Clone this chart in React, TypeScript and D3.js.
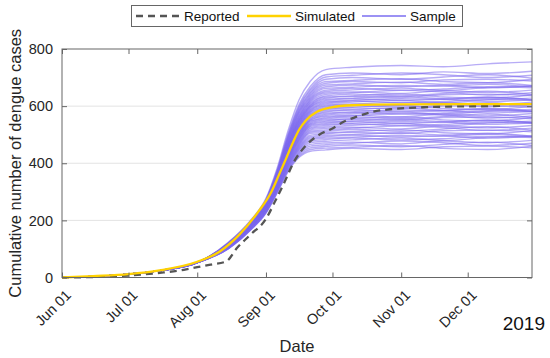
import { useEffect, useRef } from "react";
import * as d3 from "d3";

// Simulated (yellow) curve
const simDates = ["2019-06-01", "2019-06-15", "2019-07-01", "2019-07-15", "2019-08-01", "2019-08-11", "2019-08-20", "2019-08-29", "2019-09-03", "2019-09-07", "2019-09-10", "2019-09-13", "2019-09-16", "2019-09-19", "2019-09-24", "2019-09-30", "2019-10-10", "2019-10-31", "2019-12-30"];
const simValues = [0, 5, 12, 25, 55, 90, 150, 235, 293, 362, 415, 470, 518, 550, 580, 595, 603, 606, 607];

// Reported (dashed) curve
const repDates = ["2019-06-01", "2019-06-11", "2019-06-21", "2019-07-01", "2019-07-16", "2019-07-26", "2019-08-01", "2019-08-07", "2019-08-14", "2019-08-19", "2019-08-25", "2019-09-01", "2019-09-05", "2019-09-09", "2019-09-14", "2019-09-19", "2019-09-25", "2019-10-01", "2019-10-06", "2019-10-12", "2019-10-19", "2019-10-27", "2019-11-11", "2019-11-26", "2019-12-11", "2019-12-16"];
const repValues = [0, 1, 3, 7, 17, 27, 36, 45, 56, 104, 150, 205, 265, 328, 410, 462, 500, 522, 545, 563, 580, 589, 596, 599, 600, 601];

// Sample curves: common early part, then one row per sample
const sampleEarlyDates = ["2019-06-01", "2019-07-01", "2019-07-16", "2019-08-01"];
const sampleEarlyValues = [0, 12, 25, 52];
const sampleDates = ["2019-08-15", "2019-08-25", "2019-09-01", "2019-09-06", "2019-09-11", "2019-09-16", "2019-09-21", "2019-09-28", "2019-10-10", "2019-11-01", "2019-11-20", "2019-12-10", "2019-12-30"];
const samples = [
  [123, 200, 277, 382, 515, 623, 687, 728, 736, 742, 738, 748, 755],
  [121, 197, 273, 375, 504, 607, 669, 710, 716, 710, 720, 714, 722],
  [121, 196, 271, 372, 499, 600, 661, 702, 708, 716, 710, 700, 708],
  [120, 195, 270, 370, 495, 595, 655, 694, 700, 694, 702, 710, 698],
  [119, 194, 269, 368, 491, 589, 649, 686, 690, 696, 686, 682, 694],
  [119, 193, 267, 366, 488, 585, 644, 680, 686, 682, 692, 694, 688],
  [118, 193, 266, 364, 485, 581, 639, 674, 678, 684, 676, 682, 672],
  [118, 192, 265, 362, 482, 577, 634, 668, 674, 668, 672, 664, 670],
  [117, 191, 264, 360, 479, 573, 629, 662, 666, 672, 670, 676, 668],
  [117, 190, 263, 358, 476, 568, 625, 656, 662, 656, 660, 668, 664],
  [117, 190, 262, 357, 473, 565, 621, 651, 657, 663, 655, 665, 671],
  [116, 189, 261, 355, 471, 561, 617, 646, 650, 644, 654, 648, 656],
  [116, 189, 260, 354, 468, 558, 613, 641, 647, 655, 649, 639, 647],
  [115, 188, 260, 353, 466, 554, 609, 636, 642, 636, 644, 652, 640],
  [115, 188, 259, 351, 464, 552, 605, 632, 636, 642, 632, 628, 640],
  [115, 187, 258, 350, 462, 549, 602, 628, 634, 630, 640, 642, 636],
  [114, 187, 257, 349, 460, 546, 599, 624, 628, 634, 626, 632, 622],
  [114, 186, 257, 348, 458, 543, 596, 620, 626, 620, 624, 616, 622],
  [114, 186, 256, 347, 456, 540, 593, 616, 620, 626, 624, 630, 622],
  [113, 185, 255, 345, 454, 538, 589, 612, 618, 612, 616, 624, 620],
  [113, 185, 255, 344, 452, 535, 586, 608, 614, 620, 612, 622, 628],
  [113, 184, 254, 343, 450, 532, 583, 604, 608, 602, 612, 606, 614],
  [112, 184, 253, 342, 448, 529, 580, 600, 606, 614, 608, 598, 606],
  [112, 183, 252, 341, 446, 526, 577, 596, 602, 596, 604, 612, 600],
  [112, 183, 252, 339, 444, 524, 573, 592, 596, 602, 592, 588, 600],
  [112, 182, 251, 338, 442, 521, 570, 588, 594, 590, 600, 602, 596],
  [111, 182, 250, 337, 440, 518, 567, 584, 588, 594, 586, 592, 582],
  [111, 181, 249, 336, 438, 515, 564, 580, 586, 580, 584, 576, 582],
  [111, 181, 249, 335, 436, 512, 561, 576, 580, 586, 584, 590, 582],
  [110, 180, 248, 333, 434, 510, 557, 572, 578, 572, 576, 584, 580],
  [110, 180, 247, 332, 432, 507, 554, 568, 574, 580, 572, 582, 588],
  [110, 179, 247, 331, 430, 504, 551, 564, 568, 562, 572, 566, 574],
  [109, 179, 246, 330, 428, 501, 548, 560, 566, 574, 568, 558, 566],
  [109, 178, 245, 329, 426, 498, 545, 556, 562, 556, 564, 572, 560],
  [109, 178, 244, 327, 424, 496, 541, 552, 556, 562, 552, 548, 560],
  [108, 177, 244, 326, 422, 493, 538, 548, 554, 550, 560, 562, 556],
  [108, 177, 243, 325, 420, 490, 535, 544, 548, 554, 546, 552, 542],
  [108, 176, 242, 324, 418, 487, 532, 540, 546, 540, 544, 536, 542],
  [107, 176, 242, 323, 416, 484, 529, 536, 540, 546, 544, 550, 542],
  [107, 175, 241, 321, 414, 482, 525, 532, 538, 532, 536, 544, 540],
  [107, 175, 240, 320, 411, 478, 521, 527, 533, 539, 531, 541, 547],
  [106, 174, 239, 318, 409, 475, 517, 522, 526, 520, 530, 524, 532],
  [106, 174, 238, 317, 406, 471, 513, 517, 523, 531, 525, 515, 523],
  [105, 173, 237, 315, 404, 468, 509, 512, 518, 512, 520, 528, 516],
  [105, 173, 236, 314, 401, 464, 505, 507, 511, 517, 507, 503, 515],
  [105, 172, 235, 312, 399, 461, 498, 503, 508, 504, 514, 516, 510],
  [104, 171, 234, 311, 396, 457, 493, 498, 501, 507, 499, 505, 495],
  [104, 171, 234, 309, 394, 454, 488, 493, 498, 492, 496, 488, 494],
  [103, 170, 233, 308, 391, 450, 483, 488, 491, 497, 495, 501, 493],
  [103, 170, 232, 306, 389, 447, 478, 483, 488, 482, 486, 494, 490],
  [103, 169, 231, 305, 386, 442, 472, 477, 482, 488, 480, 490, 496],
  [102, 168, 230, 303, 383, 438, 466, 471, 474, 468, 478, 472, 480],
  [102, 167, 229, 301, 380, 434, 460, 465, 470, 478, 472, 462, 470],
  [101, 167, 228, 299, 377, 430, 454, 459, 464, 458, 466, 474, 462],
  [101, 166, 226, 297, 374, 425, 448, 453, 456, 462, 452, 448, 460],
  [100, 165, 225, 295, 371, 421, 442, 447, 452, 448, 458, 460, 454],
];

const yTicks = [0, 200, 400, 600, 800];
const legendLabels = ["Reported", "Simulated", "Sample"];

const FONT = "'Liberation Sans', Arial, sans-serif";

export default function App() {
  const ref = useRef<SVGSVGElement>(null);

  useEffect(() => {
    const svg = d3.select(ref.current);
    svg.selectAll("*").remove();

    const w = 550,
      h = 358,
      margin = { top: 49, right: 18, bottom: 80.5, left: 62 };
    const parse = d3.timeParse("%Y-%m-%d");

    const x = d3
      .scaleTime()
      .domain([parse("2019-06-01")!, parse("2019-12-30")!])
      .range([margin.left, w - margin.right]);
    const y = d3
      .scaleLinear()
      .domain([0, 800])
      .range([h - margin.bottom, margin.top]);

    type Pt = { d: Date; v: number };
    const line = d3
      .line<Pt>()
      .x((p) => x(p.d))
      .y((p) => y(p.v))
      .curve(d3.curveMonotoneX);

    const axisColor = "#666";
    const [x0, x1] = x.range();
    const [yb, yt] = y.range();

    // grid
    svg
      .append("g")
      .selectAll("line")
      .data(yTicks.filter((t) => t > 0 && t < 800))
      .join("line")
      .attr("x1", x0)
      .attr("x2", x1)
      .attr("y1", (t) => y(t))
      .attr("y2", (t) => y(t))
      .attr("stroke", "#e3e3e3")
      .attr("stroke-width", 1);

    // samples
    const samplePts = samples.map((row) => [
      ...sampleEarlyDates.map((d, i) => ({ d: parse(d)!, v: sampleEarlyValues[i] })),
      ...sampleDates.map((d, i) => ({ d: parse(d)!, v: row[i] })),
    ]);
    svg
      .append("g")
      .selectAll("path")
      .data(samplePts)
      .join("path")
      .attr("d", (pts) => line(pts))
      .attr("fill", "none")
      .attr("stroke", "#7b68ee")
      .attr("stroke-opacity", 0.55)
      .attr("stroke-width", 1.4);

    // reported
    const repPts = repDates.map((d, i) => ({ d: parse(d)!, v: repValues[i] }));
    svg
      .append("path")
      .attr("d", line(repPts))
      .attr("fill", "none")
      .attr("stroke", "#555")
      .attr("stroke-width", 2.3)
      .attr("stroke-dasharray", "7,5");

    // simulated
    const simPts = simDates.map((d, i) => ({ d: parse(d)!, v: simValues[i] }));
    svg
      .append("path")
      .attr("d", line(simPts))
      .attr("fill", "none")
      .attr("stroke", "#ffd200")
      .attr("stroke-width", 2.3);

    // box
    svg
      .append("rect")
      .attr("x", x0)
      .attr("y", yt)
      .attr("width", x1 - x0)
      .attr("height", yb - yt)
      .attr("fill", "none")
      .attr("stroke", axisColor);

    const months = x.ticks(d3.timeMonth.every(1)!);
    const fmt = d3.timeFormat("%b %d");

    // x axis (inward ticks, bottom and top)
    const gx = svg
      .append("g")
      .attr("transform", `translate(0,${yb})`)
      .call(d3.axisBottom(x).tickValues(months).tickSize(-5).tickFormat((d) => fmt(d as Date)));
    gx.select(".domain").remove();
    gx.selectAll("line").attr("stroke", axisColor);
    gx.selectAll<SVGTextElement, Date>("text")
      .attr("y", null)
      .attr("dy", null)
      .attr("text-anchor", "end")
      .attr("transform", "translate(6,15) rotate(-45)")
      .attr("dominant-baseline", "central")
      .attr("fill", "#262626")
      .style("font-family", FONT)
      .style("font-size", "14.5px");

    const gxt = svg
      .append("g")
      .attr("transform", `translate(0,${yt})`)
      .call(d3.axisTop(x).tickValues(months).tickSize(-5).tickFormat(() => ""));
    gxt.select(".domain").remove();
    gxt.selectAll("line").attr("stroke", axisColor);

    // y axis
    const gy = svg
      .append("g")
      .attr("transform", `translate(${x0},0)`)
      .call(d3.axisLeft(y).tickValues(yTicks).tickSize(-5).tickPadding(9));
    gy.select(".domain").remove();
    gy.selectAll("line").attr("stroke", axisColor);
    gy.selectAll("text")
      .attr("fill", "#262626")
      .style("font-family", FONT)
      .style("font-size", "14.5px");

    const gyr = svg
      .append("g")
      .attr("transform", `translate(${x1},0)`)
      .call(d3.axisRight(y).tickValues(yTicks).tickSize(-5).tickFormat(() => ""));
    gyr.select(".domain").remove();
    gyr.selectAll("line").attr("stroke", axisColor);

    // axis titles
    svg
      .append("text")
      .attr("x", (x0 + x1) / 2)
      .attr("y", 352)
      .attr("text-anchor", "middle")
      .attr("fill", "#262626")
      .style("font-family", FONT)
      .style("font-size", "16.5px")
      .text("Date");
    svg
      .append("text")
      .attr("transform", `translate(21,${(yt + yb) / 2}) rotate(-90)`)
      .attr("text-anchor", "middle")
      .attr("fill", "#262626")
      .style("font-family", FONT)
      .style("font-size", "16.5px")
      .text("Cumulative number of dengue cases");
    svg
      .append("text")
      .attr("x", 545)
      .attr("y", 330)
      .attr("text-anchor", "end")
      .attr("fill", "#111")
      .style("font-family", FONT)
      .style("font-size", "19px")
      .text("2019");

    // legend
    const lg = svg.append("g");
    lg.append("rect")
      .attr("x", 131.5)
      .attr("y", 5.5)
      .attr("width", 331)
      .attr("height", 21)
      .attr("fill", "#fff")
      .attr("stroke", axisColor);
    const items = [
      { x: 136, stroke: "#555", dash: "7,5", width: 2.3 },
      { x: 247, stroke: "#ffd200", dash: null, width: 2.3 },
      { x: 362, stroke: "#7b6ef0", dash: null, width: 1.5 },
    ];
    items.forEach((it, i) => {
      lg.append("line")
        .attr("x1", it.x)
        .attr("x2", it.x + 44)
        .attr("y1", 16)
        .attr("y2", 16)
        .attr("stroke", it.stroke)
        .attr("stroke-width", it.width)
        .attr("stroke-dasharray", it.dash);
      lg.append("text")
        .attr("x", it.x + 48)
        .attr("y", 21)
        .attr("fill", "#111")
        .style("font-family", FONT)
        .style("font-size", "13.5px")
        .text(legendLabels[i]);
    });
  }, []);

  return <svg ref={ref} width={550} height={358} style={{ position: "absolute", left: 0, top: 0 }} />;
}
